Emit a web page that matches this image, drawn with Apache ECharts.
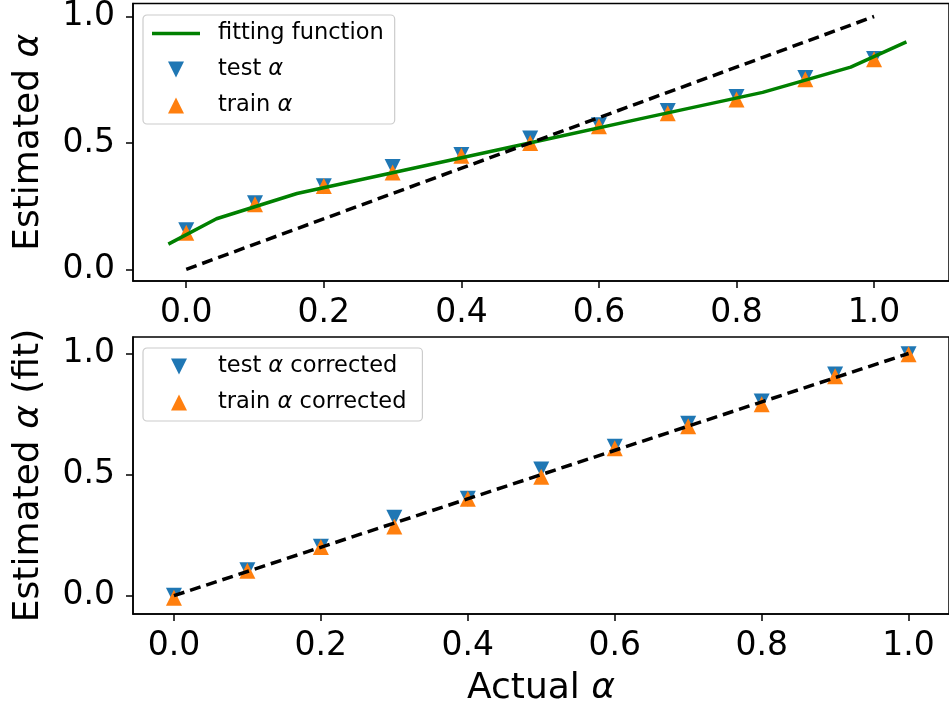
<!DOCTYPE html>
<html>
<head>
<meta charset="utf-8">
<script src="https://cdn.jsdelivr.net/npm/echarts@6/dist/echarts.min.js"></script>
<style>
  html, body { margin: 0; padding: 0; background: #fff; }
  #main { width: 949px; height: 708px; }
</style>
</head>
<body>
<div id="main"></div>
<script>
// actual alpha values (x for the markers)
var alphaActual = [0.0, 0.1, 0.2, 0.3, 0.4, 0.5, 0.6, 0.7, 0.8, 0.9, 1.0];
// top panel: raw estimates
var testAlpha  = [0.155, 0.261, 0.329, 0.405, 0.452, 0.518, 0.570, 0.626, 0.682, 0.757, 0.832];
var trainAlpha = [0.145, 0.258, 0.330, 0.383, 0.449, 0.500, 0.566, 0.617, 0.672, 0.752, 0.831];
// fitting function vertices
var fitX = [-0.026, 0.044, 0.161, 0.330, 0.499, 0.668, 0.838, 0.966, 1.047];
var fitY = [0.1, 0.2, 0.3, 0.4, 0.5, 0.6, 0.7, 0.8, 0.9];
// bottom panel: corrected estimates
var testCorrected  = [0.000, 0.105, 0.202, 0.322, 0.400, 0.521, 0.615, 0.710, 0.802, 0.913, 0.997];
var trainCorrected = [-0.008, 0.103, 0.201, 0.286, 0.400, 0.491, 0.609, 0.700, 0.790, 0.906, 0.997];
// identity line
var idealX = [0, 1];
var idealY = [0, 1];
// ticks
var xTicks = [0, 0.2, 0.4, 0.6, 0.8, 1.0];
var yTicks = [0, 0.5, 1.0];

var FONT = 'DejaVu Sans';
var DOWN = 'path://M0,0L2,0L1,2Z';
var UP = 'path://M1,0L2,2L0,2Z';
var BAR = 'path://M0,0L48,0L48,3.5L0,3.5Z';

function pairs(xs, ys) {
  var out = [];
  for (var i = 0; i < xs.length; i++) out.push([xs[i], ys[i]]);
  return out;
}
function fmt(v) { return v.toFixed(1); }
function greek(name) { return name.replace('α', '{i|α}'); }

function xAxis(idx, min, max, name) {
  return {
    type: 'value', gridIndex: idx, min: min, max: max,
    name: name || '', nameLocation: 'middle', nameGap: 57,
    nameTextStyle: { fontFamily: FONT, fontSize: 36, color: '#000',
      rich: { i: { fontFamily: FONT, fontSize: 36, fontStyle: 'italic', color: '#000' } } },
    splitLine: { show: false },
    axisLine: { show: true, onZero: false, lineStyle: { color: '#000', width: 1.5 } },
    axisTick: { show: true, length: 7, lineStyle: { color: '#000', width: 1.5 }, customValues: xTicks },
    axisLabel: { fontFamily: FONT, fontSize: 33, color: '#000', margin: 16, formatter: fmt, customValues: xTicks }
  };
}
function yAxis(idx, min, max, name) {
  return {
    type: 'value', gridIndex: idx, min: min, max: max,
    name: name, nameLocation: 'middle', nameGap: 86,
    nameTextStyle: { fontFamily: FONT, fontSize: 36, color: '#000',
      rich: { i: { fontFamily: FONT, fontSize: 36, fontStyle: 'italic', color: '#000' } } },
    splitLine: { show: false },
    axisLine: { show: true, onZero: false, lineStyle: { color: '#000', width: 1.5 } },
    axisTick: { show: true, length: 7, lineStyle: { color: '#000', width: 1.5 }, customValues: yTicks },
    axisLabel: { fontFamily: FONT, fontSize: 33, color: '#000', margin: 18, formatter: fmt, customValues: yTicks }
  };
}
function legend(top, names, icons, padLeft, textPad, padRight) {
  return {
    left: 143, top: top, orient: 'vertical',
    data: names.map(function (n, i) { return { name: n, icon: icons[i] }; }),
    itemWidth: 48, itemHeight: 16, itemGap: 13,
    padding: [7, padRight, 7, padLeft],
    borderColor: '#cccccc', borderWidth: 1.2, borderRadius: 4, backgroundColor: '#fff',
    formatter: greek,
    textStyle: { fontFamily: FONT, fontSize: 22.5, color: '#000', padding: [0, 0, 0, textPad],
      rich: { i: { fontFamily: FONT, fontSize: 22.5, fontStyle: 'italic', color: '#000' } } }
  };
}

var chart = echarts.init(document.getElementById('main'));
chart.setOption({
  animation: false,
  backgroundColor: '#fff',
  grid: [
    { left: 133, top: 3, width: 817, height: 278, show: true, borderColor: '#000', borderWidth: 1.5, backgroundColor: 'transparent' },
    { left: 133, top: 337, width: 817, height: 277, show: true, borderColor: '#000', borderWidth: 1.5, backgroundColor: 'transparent' }
  ],
  xAxis: [
    xAxis(0, -0.0774, 1.1089),
    xAxis(1, -0.0557, 1.055, 'Actual {i|α}')
  ],
  yAxis: [
    yAxis(0, -0.046, 1.051, 'Estimated {i|α}'),
    yAxis(1, -0.0755, 1.068, 'Estimated {i|α} (fit)')
  ],
  legend: [
    legend(15, ['fitting function', 'test α', 'train α'], [BAR, DOWN, UP], 9, 13, 11),
    legend(348, ['test α corrected', 'train α corrected'], [DOWN, UP], 28, 10, 16)
  ],
  series: [
    { name: 'test α', type: 'scatter', xAxisIndex: 0, yAxisIndex: 0, symbol: DOWN, symbolSize: 16,
      itemStyle: { color: '#1f77b4', opacity: 1 }, data: pairs(alphaActual, testAlpha), z: 2 },
    { name: 'train α', type: 'scatter', xAxisIndex: 0, yAxisIndex: 0, symbol: UP, symbolSize: 16,
      itemStyle: { color: '#ff7f0e', opacity: 1 }, data: pairs(alphaActual, trainAlpha), z: 2 },
    { name: 'fitting function', type: 'line', xAxisIndex: 0, yAxisIndex: 0, symbol: 'none',
      lineStyle: { color: '#008000', width: 3.5 }, itemStyle: { color: '#008000' },
      data: pairs(fitX, fitY), z: 3 },
    { name: 'ideal', type: 'line', xAxisIndex: 0, yAxisIndex: 0, symbol: 'none',
      lineStyle: { color: '#000', width: 3.5, type: [11, 6] }, data: pairs(idealX, idealY), z: 4 },

    { name: 'test α corrected', type: 'scatter', xAxisIndex: 1, yAxisIndex: 1, symbol: DOWN, symbolSize: 16,
      itemStyle: { color: '#1f77b4', opacity: 1 }, data: pairs(alphaActual, testCorrected), z: 2 },
    { name: 'train α corrected', type: 'scatter', xAxisIndex: 1, yAxisIndex: 1, symbol: UP, symbolSize: 16,
      itemStyle: { color: '#ff7f0e', opacity: 1 }, data: pairs(alphaActual, trainCorrected), z: 2 },
    { name: 'ideal corrected', type: 'line', xAxisIndex: 1, yAxisIndex: 1, symbol: 'none',
      lineStyle: { color: '#000', width: 3.5, type: [11, 6] }, data: pairs(idealX, idealY), z: 4 }
  ]
});
</script>
</body>
</html>
